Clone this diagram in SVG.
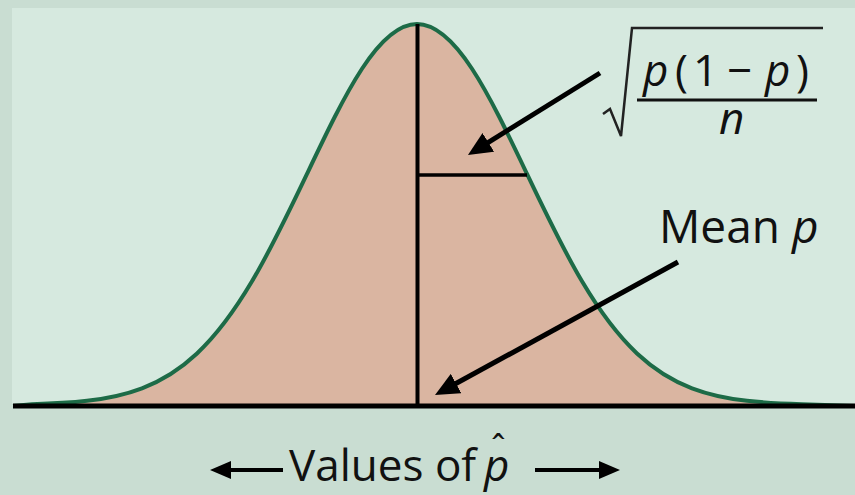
<svg xmlns="http://www.w3.org/2000/svg" width="855" height="495" viewBox="0 0 855 495">
  <style>
    .lbl { font-family: "Open Sans", "Noto Sans", "Liberation Sans", sans-serif; fill: #111; }
    .it { font-style: italic; }
    .conn { stroke: #000; stroke-width: 5; fill: none; }
    .axisarrow { stroke: #000; stroke-width: 4; fill: none; }
  </style>
  <defs>
    <marker id="head" markerUnits="userSpaceOnUse" markerWidth="26" markerHeight="22" refX="9" refY="11" orient="auto">
      <path d="M0,0 L24,11 L0,22 z" fill="#000"/>
    </marker>
    <marker id="headSmall" markerUnits="userSpaceOnUse" markerWidth="22" markerHeight="18" refX="8" refY="9" orient="auto">
      <path d="M0,0 L21,9 L0,18 z" fill="#000"/>
    </marker>
  </defs>

  <rect x="0" y="0" width="855" height="495" fill="#c9ddd2"/>
  <rect x="12" y="8" width="843" height="398" fill="#d6e9df"/>

  <g id="curve">
    <path d="M13,406 L32,404.17 C50.33,403.68 68.67,402.89 87,400.77 C105.33,398.65 123.67,395.24 142,388.26 C160.33,381.29 178.67,370.62 197,353.43 C215.33,336.24 233.67,312.23 252,281.31 C270.33,250.39 288.67,212.42 307,173.91 C325.33,135.40 343.67,96.79 362,68.77 C380.33,40.75 398.67,24 417,24 C435.33,24 453.67,40.75 472,68.77 C490.33,96.79 508.67,135.40 527,173.91 C545.33,212.42 563.67,250.39 582,281.31 C600.33,312.23 618.67,336.24 637,353.43 C655.33,370.62 673.67,381.29 692,388.26 C710.33,395.24 728.67,398.65 747,400.77 C765.33,402.89 783.67,403.68 802,404.17 L855,406 Z" fill="#dab5a1" stroke="none"/>
    <path d="M13,406 L32,404.17 C50.33,403.68 68.67,402.89 87,400.77 C105.33,398.65 123.67,395.24 142,388.26 C160.33,381.29 178.67,370.62 197,353.43 C215.33,336.24 233.67,312.23 252,281.31 C270.33,250.39 288.67,212.42 307,173.91 C325.33,135.40 343.67,96.79 362,68.77 C380.33,40.75 398.67,24 417,24 C435.33,24 453.67,40.75 472,68.77 C490.33,96.79 508.67,135.40 527,173.91 C545.33,212.42 563.67,250.39 582,281.31 C600.33,312.23 618.67,336.24 637,353.43 C655.33,370.62 673.67,381.29 692,388.26 C710.33,395.24 728.67,398.65 747,400.77 C765.33,402.89 783.67,403.68 802,404.17 L855,406" fill="none" stroke="#1d6b47" stroke-width="4"/>
  </g>

  <g id="mean-line">
    <line x1="417.5" y1="24" x2="417.5" y2="406" stroke="#000" stroke-width="4"/>
  </g>
  <g id="sd-line">
    <line x1="417" y1="175" x2="527" y2="175" stroke="#000" stroke-width="3.5"/>
  </g>
  <g id="baseline">
    <line x1="13" y1="406" x2="855" y2="406" stroke="#000" stroke-width="5"/>
  </g>

  <g id="sd-label">
    <path d="M603,114 L610,109 L621,136 L632,28 L823,28" fill="none" stroke="#222" stroke-width="2.5" stroke-linejoin="miter"/>
    <line x1="637" y1="100" x2="817" y2="100" stroke="#111" stroke-width="3"/>
    <text class="lbl" font-size="44" y="86"><tspan class="it" x="643">p</tspan><tspan x="675">(</tspan><tspan x="693">1</tspan><tspan x="727">−</tspan><tspan class="it" x="765">p</tspan><tspan x="796">)</tspan><tspan class="it" x="719" y="134">n</tspan></text>
  </g>

  <g id="mean-label">
    <text class="lbl" font-size="46" x="659" y="243">Mean<tspan class="it" x="792">p</tspan></text>
  </g>

  <g id="axis-label">
    <text class="lbl" font-size="44" x="289" y="481">Values of<tspan class="it" x="484">p</tspan><tspan x="491" y="461" font-size="36">ˆ</tspan></text>
  </g>

  <g id="connectors">
    <line class="conn" x1="600" y1="73" x2="480.7" y2="147.1" marker-end="url(#head)"/>
    <line class="conn" x1="678" y1="262" x2="448.2" y2="387.8" marker-end="url(#head)"/>
    <line class="axisarrow" x1="283" y1="470" x2="223" y2="470" marker-end="url(#headSmall)"/>
    <line class="axisarrow" x1="535" y1="470" x2="607" y2="470" marker-end="url(#headSmall)"/>
  </g>
</svg>
